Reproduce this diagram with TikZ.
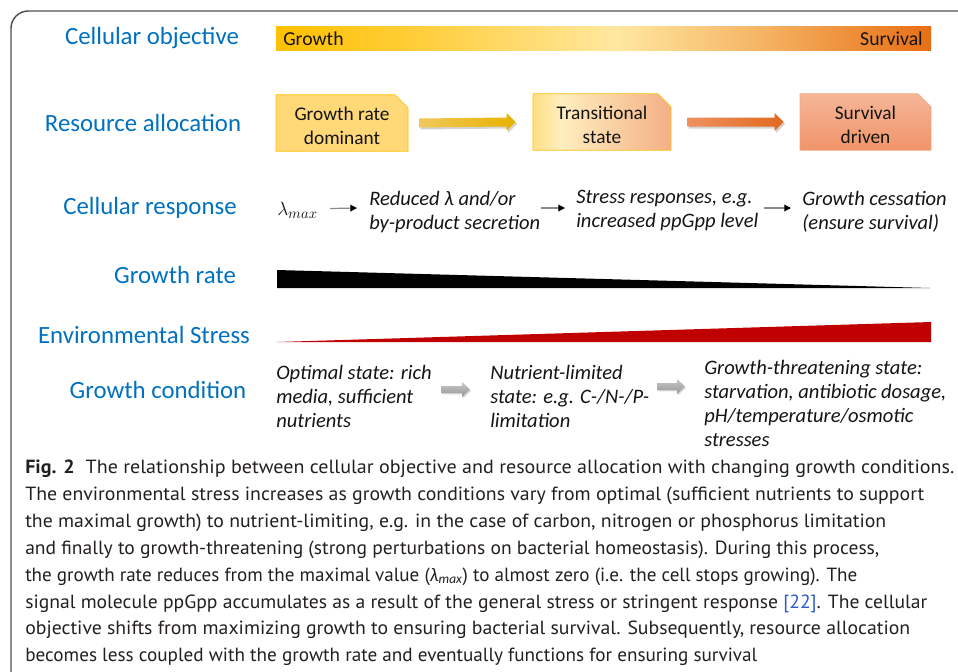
\documentclass[tikz,border=0pt]{standalone}
\usepackage{fontspec}
\usepackage{graphicx}
\setmainfont{Carlito}
\newfontfamily\capfont{PT Sans}
\usetikzlibrary{shapes.misc,arrows.meta,calc,shadows}
\definecolor{lblblue}{RGB}{0,112,192}
\definecolor{goldc}{RGB}{255,192,0}
\definecolor{gold2}{RGB}{255,206,60}
\definecolor{lightgold}{RGB}{255,232,160}
\definecolor{midorange}{RGB}{245,180,100}
\definecolor{darkorange}{RGB}{232,110,20}
\definecolor{boxone}{RGB}{255,216,120}
\definecolor{trA}{RGB}{255,222,130}
\definecolor{trB}{RGB}{255,238,190}
\definecolor{trC}{RGB}{244,176,135}
\definecolor{salmontop}{RGB}{245,182,152}
\definecolor{salmonbot}{RGB}{240,148,105}
\definecolor{salmonline}{RGB}{244,165,125}
\definecolor{stressred}{RGB}{192,0,0}
\definecolor{framegray}{RGB}{80,80,80}
\definecolor{captext}{RGB}{35,31,32}
\definecolor{refblue}{RGB}{40,90,200}
\definecolor{arrgoldA}{RGB}{240,200,90}
\definecolor{arrgoldB}{RGB}{232,178,0}
\definecolor{arrorA}{RGB}{238,145,95}
\definecolor{arrorB}{RGB}{226,105,30}
\definecolor{grayA}{RGB}{200,200,200}
\definecolor{grayB}{RGB}{150,150,150}
\definecolor{txt}{RGB}{20,20,20}
\definecolor{shaftgray}{RGB}{140,140,140}
\pgfdeclarehorizontalshading{objshade}{100bp}{color(0bp)=(goldc); color(25bp)=(goldc); color(36bp)=(gold2); color(51bp)=(lightgold); color(62bp)=(midorange); color(75bp)=(darkorange); color(100bp)=(darkorange)}
\pgfdeclarehorizontalshading{transshade}{100bp}{color(0bp)=(trA); color(25bp)=(trA); color(35bp)=(trB); color(75bp)=(trC); color(100bp)=(trC)}
\newcommand\boxtext[2]{\raisebox{-3.75pt}[\height][\depth]{\begin{tabular}{@{}c@{}}#1\\#2\end{tabular}}}
\begin{document}
\begin{tikzpicture}[x=0.75pt,y=-0.75pt,
  lbl/.style={text=lblblue, font=\fontsize{18.6}{22}\selectfont, anchor=base, inner sep=0pt},
  itx/.style={text=txt, font=\fontsize{15.4}{18}\selectfont\itshape, align=left, anchor=west, inner sep=0pt},
  rbox/.style={chamfered rectangle, chamfered rectangle corners=north east,
     chamfered rectangle xsep=6.5pt, chamfered rectangle angle=45,
     minimum height=42pt, inner sep=0pt, text=txt,
     font=\fontsize{14.5}{18}\selectfont},
  bigshadow/.style={drop shadow={shadow xshift=1pt, shadow yshift=-1.5pt, opacity=0.35}},
  grayarrow/.style={top color=grayA, bottom color=grayB,
     drop shadow={shadow xshift=0.8pt, shadow yshift=-1pt, opacity=0.3}},
  respar/.style={draw=shaftgray, line width=0.9pt, -{Triangle[length=5pt,width=5pt,color=black]}},
  capline/.style={anchor=base west, inner sep=0pt, text=captext, font=\capfont\fontsize{14.3}{17}\selectfont}
]
\useasboundingbox (0,0) rectangle (958,672);
% frame
\draw[framegray, line width=1.1pt, rounded corners=13pt] (11,672) -- (11,11) -- (958,11);

% row labels
\node[lbl] (l1) at (152,44.5) {Cellular objective};
\node[lbl] (l2) at (143,131) {Resource allocation};
\node[lbl] (l3) at (150,214) {Cellular response};
\node[lbl] (l4) at (175,283) {Growth rate};
\node[lbl] (l5) at (144,343) {Environmental Stress};
\node[lbl] (l6) at (158,398) {Growth condition};

% objective bar
\shade[shading=objshade] (276,26) rectangle (931,50);
\node[anchor=base west, inner sep=0pt, text=txt, font=\fontsize{14.8}{18}\selectfont] (gw) at (283,45) {Growth};
\node[anchor=base east, inner sep=0pt, text=txt, font=\fontsize{14.8}{18}\selectfont] (sv) at (923,45) {Survival};

% resource allocation boxes
\node[rbox, draw=goldc, fill=boxone, minimum width=99pt] (b1) at (342,123) {\boxtext{Growth rate}{dominant}};
\node[rbox, draw=goldc, shading=transshade, minimum width=103.5pt] (b2) at (602,122) {\boxtext{Transitional}{state}};
\node[rbox, draw=salmonline, top color=salmontop, bottom color=salmonbot, minimum width=98.25pt] (b3) at (865.5,122) {\boxtext{Survival}{driven}};
% block arrows between boxes
\shade[bigshadow, left color=arrgoldA, right color=arrgoldB]
  ($(b1.east)+(11,-4.5)$) -- ($(b2.west)+(-26,-4.5)$) -- ($(b2.west)+(-26,-9)$) --
  ($(b2.west)+(-17,0)$) -- ($(b2.west)+(-26,9)$) -- ($(b2.west)+(-26,4.5)$) --
  ($(b1.east)+(11,4.5)$) -- cycle;
\shade[bigshadow, left color=arrorA, right color=arrorB]
  ($(b2.east)+(16,-4.5)$) -- ($(b3.west)+(-25,-4.5)$) -- ($(b3.west)+(-25,-9)$) --
  ($(b3.west)+(-16,0)$) -- ($(b3.west)+(-25,9)$) -- ($(b3.west)+(-25,4.5)$) --
  ($(b2.east)+(16,4.5)$) -- cycle;

% cellular response
\node[itx, font=\fontsize{15}{18}\selectfont] (lam) at (277,210) {$\lambda_{max}$};
\node[itx] (r1) at (369,212) {Reduced λ and/or\\by-product secretion};
\node[itx] (r2) at (576,210.5) {Stress responses, e.g.\\increased ppGpp level};
\node[itx] (r3) at (802,211.5) {Growth cessation\\(ensure survival)};
\draw[respar] ($(lam.east)+(12,-1.5)$) -- ($(r1.west)+(-12,-4)$);
\draw[respar] ($(r1.east)+(1,-4)$) -- ($(r2.west)+(-11,-2.5)$);
\draw[respar] ($(r2.east)+(5,-2.5)$) -- ($(r3.west)+(-11,-3.5)$);

% growth rate and stress wedges
\fill[black] (277,270) -- (277,288) -- (930,288) -- cycle;
\fill[stressred] (277,342) -- (931,322) -- (931,342) -- cycle;

% growth condition
\node[itx] (g1) at (276,396) {Optimal state: rich\\media, sufficient\\nutrients};
\node[itx] (g2) at (490,396) {Nutrient-limited\\state: e.g. C-/N-/P-\\limitation};
\node[itx] (g3) at (704,403.5) {Growth-threatening state:\\starvation, antibiotic dosage,\\pH/temperature/osmotic\\stresses};
\shade[grayarrow] (441,386) -- (462,386) -- (462,382) -- (470,389.5) -- (462,397) -- (462,393) -- (441,393) -- cycle;
\shade[grayarrow] (657,383) -- (677,383) -- (677,379) -- (685,386.5) -- (677,394) -- (677,390) -- (657,390) -- cycle;

% caption
\node[capline] (c1) at (25,473.5) {\resizebox{696.75pt}{\height}{\textbf{Fig. 2}\hspace{0.55em}The relationship between cellular objective and resource allocation with changing growth conditions.}};
\node[capline] (c2) at (25,500.4) {\resizebox{674.25pt}{\height}{The environmental stress increases as growth conditions vary from optimal (sufficient nutrients to support}};
\node[capline] (c3) at (25,527.3) {\resizebox{645.75pt}{\height}{the maximal growth) to nutrient-limiting, e.g. in the case of carbon, nitrogen or phosphorus limitation}};
\node[capline] (c4) at (25,554.2) {\resizebox{640.5pt}{\height}{and finally to growth-threatening (strong perturbations on bacterial homeostasis). During this process,}};
\node[capline] (c5) at (25,581.1) {\resizebox{624pt}{\height}{the growth rate reduces from the maximal value ({\rmfamily\itshape λ\textsubscript{max}}) to almost zero (i.e. the cell stops growing). The}};
\node[capline] (c6) at (25,608) {\resizebox{676.5pt}{\height}{signal molecule ppGpp accumulates as a result of the general stress or stringent response {\color{refblue}[22]}. The cellular}};
\node[capline] (c7) at (25,634.9) {\resizebox{663.75pt}{\height}{objective shifts from maximizing growth to ensuring bacterial survival. Subsequently, resource allocation}};
\node[capline] (c8) at (25,661.8) {\resizebox{549pt}{\height}{becomes less coupled with the growth rate and eventually functions for ensuring survival}};
\end{tikzpicture}
\end{document}
